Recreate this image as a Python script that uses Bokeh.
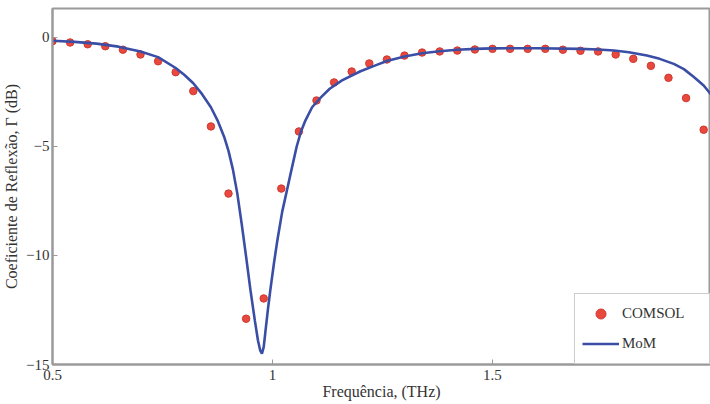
from bokeh.plotting import figure
from bokeh.models import Range1d, FixedTicker, Legend, LegendItem
from bokeh.embed import file_html
from bokeh.resources import INLINE

# COMSOL samples (THz, dB)
comsol_freq = [0.50, 0.54, 0.58, 0.62, 0.66, 0.70, 0.74, 0.78, 0.82, 0.86,
               0.90, 0.94, 0.98, 1.02, 1.06, 1.10, 1.14, 1.18, 1.22, 1.26,
               1.30, 1.34, 1.38, 1.42, 1.46, 1.50, 1.54, 1.58, 1.62, 1.66,
               1.70, 1.74, 1.78, 1.82, 1.86, 1.90, 1.94, 1.98]
comsol_db = [-0.17, -0.23, -0.31, -0.40, -0.56, -0.78, -1.09, -1.59, -2.46, -4.08,
             -7.16, -12.90, -11.97, -6.93, -4.31, -2.89, -2.06, -1.56, -1.19, -1.01,
             -0.83, -0.69, -0.64, -0.60, -0.55, -0.52, -0.52, -0.52, -0.52, -0.56,
             -0.61, -0.64, -0.78, -0.98, -1.30, -1.85, -2.78, -4.23]

# MoM curve (THz, dB)
mom_freq = [0.50, 0.55, 0.60, 0.65, 0.70, 0.74, 0.78, 0.80, 0.82, 0.84,
            0.86, 0.875, 0.89, 0.90, 0.91, 0.92, 0.93, 0.94, 0.95, 0.96,
            0.967, 0.972, 0.976, 0.980, 0.985, 0.990, 0.995, 1.003, 1.011, 1.022,
            1.034, 1.045, 1.055, 1.065, 1.075, 1.09, 1.11, 1.13, 1.158, 1.20,
            1.234, 1.26, 1.30, 1.34, 1.38, 1.42, 1.46, 1.50, 1.60, 1.70,
            1.74, 1.776, 1.81, 1.851, 1.88, 1.912, 1.935, 1.957, 1.98, 2.0]
mom_db = [-0.15, -0.20, -0.28, -0.42, -0.64, -0.90, -1.40, -1.72, -2.10, -2.60,
          -3.20, -3.80, -4.55, -5.20, -6.05, -7.15, -8.55, -10.05, -11.60, -13.00,
          -13.90, -14.35, -14.50, -14.20, -13.30, -12.40, -11.60, -10.40, -9.31, -8.00,
          -6.90, -5.90, -5.00, -4.30, -3.80, -3.20, -2.75, -2.35, -1.97, -1.55,
          -1.28, -1.08, -0.87, -0.72, -0.63, -0.56, -0.52, -0.50, -0.49, -0.52,
          -0.55, -0.60, -0.68, -0.83, -0.98, -1.21, -1.45, -1.80, -2.20, -2.70]

x_ticks = [0.5, 1.0, 1.5, 2.0]
y_ticks = [-15, -10, -5, 0]

FONT = "Liberation Serif"
GRAY = "#9a9a9a"
TXT = "#333333"

p = figure(width=710, height=404, output_backend="svg", toolbar_location=None,
           x_range=Range1d(0.5, 1.9955), y_range=Range1d(-15, 1.33),
           min_border_left=52, min_border_right=0, min_border_top=8, min_border_bottom=40,
           background_fill_color="white", border_fill_color="white")
p.grid.visible = False
p.outline_line_color = GRAY
p.outline_line_width = 2

for ax in (p.xaxis[0], p.yaxis[0]):
    ax.axis_line_color = GRAY
    ax.axis_line_width = 2
    ax.major_tick_line_color = GRAY
    ax.major_tick_in = 5
    ax.major_tick_out = 0
    ax.minor_tick_line_color = None
    ax.major_label_text_font = FONT
    ax.major_label_text_font_size = "15px"
    ax.major_label_text_color = TXT
    ax.axis_label_text_font = FONT
    ax.axis_label_text_font_size = "16px"
    ax.axis_label_text_font_style = "normal"
    ax.axis_label_text_color = TXT

p.xaxis[0].ticker = FixedTicker(ticks=x_ticks)
p.xaxis[0].major_label_overrides = {0.5: "0.5", 1: "1", 1.5: "1.5"}
p.xaxis[0].axis_label = "Frequência, (THz)"
p.xaxis[0].major_label_standoff = 5
p.xaxis[0].axis_label_standoff = 0
p.yaxis[0].ticker = FixedTicker(ticks=y_ticks)
p.yaxis[0].axis_label = "Coeficiente de Reflexão, Γ (dB)"
p.yaxis[0].major_label_standoff = 3
p.yaxis[0].axis_label_standoff = 3

r_dots = p.scatter(comsol_freq, comsol_db, size=7.5, fill_color="#e8483d",
                   line_color="#cf3a30", line_width=1)
r_line = p.line(mom_freq, mom_db, line_color="#3a4ea6", line_width=2.6)

legend = Legend(items=[LegendItem(label="COMSOL", renderers=[r_dots]),
                       LegendItem(label="MoM", renderers=[r_line])],
                location="bottom_right", border_line_color=GRAY, border_line_width=1.5,
                background_fill_color="white", background_fill_alpha=1,
                label_text_font=FONT, label_text_font_size="15px", label_text_color=TXT,
                glyph_width=37, glyph_height=25, label_height=25, label_width=80,
                spacing=5, padding=7, margin=0, label_standoff=3)
p.add_layout(legend)

open("out.html", "w").write(file_html(p, INLINE))
